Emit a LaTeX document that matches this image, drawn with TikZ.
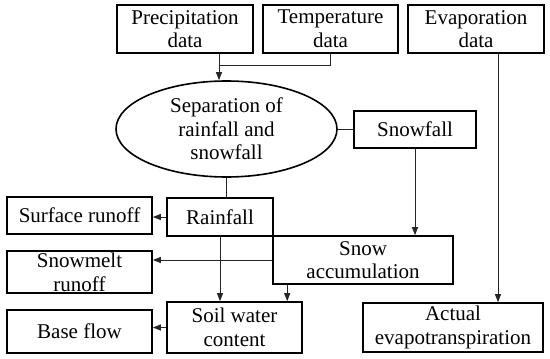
\documentclass[tikz,border=0pt]{standalone}
\usepackage{fontspec}
\setmainfont{Liberation Serif}
\usetikzlibrary{arrows.meta, positioning, calc, shapes.geometric}

\begin{document}
\begin{tikzpicture}[
  x=0.5pt, y=-0.5pt,
  font=\fontsize{10.5}{11.8}\selectfont,
  box/.style={draw=black, line width=0.8pt, align=center, inner sep=1pt, fill=white},
  oval/.style={box, ellipse, inner sep=0pt},
  wire/.style={line width=0.5pt, color=black!85},
  arr/.style={wire, -{Triangle[length=4pt, width=3pt]}}
]
\useasboundingbox (0,0) rectangle (550,358);
\node[box, minimum width=68pt, minimum height=24pt] (precip) at (185,29)
  {Precipitation\\data};
\node[box, minimum width=67.5pt, minimum height=24pt] (temp) at (330.5,29)
  {Temperature\\data};
\node[box, minimum width=68pt, minimum height=24pt] (evap) at (476,29)
  {Evaporation\\data};
\node[oval, minimum width=110.5pt, minimum height=48pt] (sep) at (226.5,129)
  {Separation of\\rainfall and\\snowfall};
\node[box, minimum width=61pt, minimum height=18.5pt] (snowfall) at (415,129.5)
  {Snowfall};
\node[box, minimum width=53pt, minimum height=19pt] (rain) at (220,217)
  {Rainfall};
\node[box, minimum width=72.5pt, minimum height=18.5pt] (surf) at (79.5,215.5)
  {Surface runoff};
\node[box, minimum width=90pt, minimum height=24pt] (snowacc) at (363,260)
  {Snow\\accumulation};
\node[box, minimum width=72.5pt, minimum height=21pt, inner ysep=0pt,
  text depth=0pt] (melt) at (79.5,272)
  {Snowmelt\\runoff};
\node[box, minimum width=72.5pt, minimum height=21.5pt] (base) at (79.5,331.5)
  {Base flow};
\node[box, minimum width=67.5pt, minimum height=25.5pt] (soil) at (234.5,327.5)
  {Soil water\\content};
\node[box, minimum width=90pt, minimum height=24.5pt] (aet) at (453,327.5)
  {Actual\\evapotranspiration};
\coordinate (j) at (219,66);
\draw[wire] (j |- precip.south) -- (j);
\draw[wire] (temp.south) |- (j);
\draw[arr] (j) -- (j |- sep.north);
\draw[wire] (sep.east) -- (sep.east -| snowfall.west);
\draw[wire] (sep.south) -- (sep.south |- rain.north);
\draw[arr] (rain.west) -- (rain.west -| surf.east);
\draw[arr] (snowfall.south) -- (snowfall.south |- snowacc.north);
\draw[arr] (snowacc.west) -- (snowacc.west -| melt.east);
\draw[arr] (rain.south) -- (rain.south |- soil.north);
\coordinate (m) at ($(snowacc.south west)+(15,0)$);
\draw[arr] (m) -- (m |- soil.north);
\draw[arr] (soil.west) -- (soil.west -| base.east);
\coordinate (e) at ($(evap.south)+(22,0)$);
\draw[arr] (e) -- (e |- aet.north);
\end{tikzpicture}
\end{document}
